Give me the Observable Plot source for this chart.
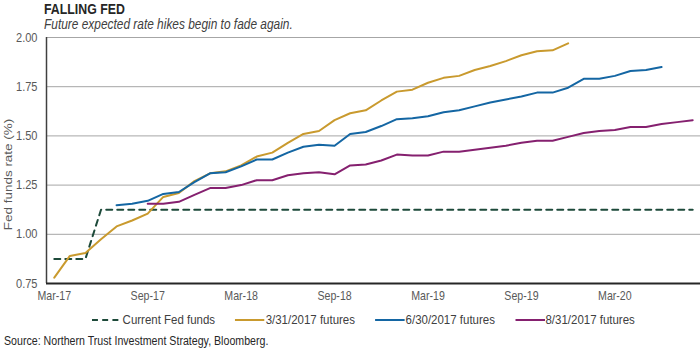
<!DOCTYPE html>
<html><head><meta charset="utf-8">
<script src="https://cdn.jsdelivr.net/npm/d3@7"></script>
<script src="https://cdn.jsdelivr.net/npm/@observablehq/plot@0.6"></script>
<style>
html,body{margin:0;padding:0;background:#fff;}
body{width:700px;height:350px;overflow:hidden;position:relative;font-family:"Liberation Sans",Arial,sans-serif;}
.sq{transform:scaleX(0.85);transform-origin:0 50%;}
#title{position:absolute;left:44px;top:1px;font-weight:bold;font-size:14.5px;color:#262626;white-space:nowrap;}
#subtitle{position:absolute;left:44px;top:16px;font-style:italic;font-size:14px;color:#404040;white-space:nowrap;}
#chart{position:absolute;left:0;top:32px;}
#legend{position:absolute;left:92px;top:312px;display:flex;gap:23.5px;font-size:13.5px;color:#404040;white-space:nowrap;}
#legend .item{display:flex;align-items:center;gap:1px;}
#source{position:absolute;left:4px;top:334px;font-size:12.5px;color:#262626;white-space:nowrap;}
</style></head>
<body>
<div id="title" class="sq">FALLING FED</div>
<div id="subtitle" class="sq">Future expected rate hikes begin to fade again.</div>
<div id="chart"></div>
<div id="legend" class="sq"></div>
<div id="source" class="sq">Source: Northern Trust Investment Strategy, Bloomberg.</div>
<script>
const months = ["Mar-17","Apr-17","May-17","Jun-17","Jul-17","Aug-17","Sep-17","Oct-17","Nov-17","Dec-17",
  "Jan-18","Feb-18","Mar-18","Apr-18","May-18","Jun-18","Jul-18","Aug-18","Sep-18","Oct-18","Nov-18","Dec-18",
  "Jan-19","Feb-19","Mar-19","Apr-19","May-19","Jun-19","Jul-19","Aug-19","Sep-19","Oct-19","Nov-19","Dec-19",
  "Jan-20","Feb-20","Mar-20","Apr-20","May-20","Jun-20","Jul-20","Aug-20"];
const xTickLabels = ["Mar-17","Sep-17","Mar-18","Sep-18","Mar-19","Sep-19","Mar-20"];
const yTicks = [0.75, 1.00, 1.25, 1.50, 1.75, 2.00];

const seriesNames = ["Current Fed funds","3/31/2017 futures","6/30/2017 futures","8/31/2017 futures"];
const seriesStart = ["Mar-17","Mar-17","Jul-17","Sep-17"];

const currentFedFunds = [0.875,0.875,0.875,1.125,1.125,1.125,1.125,1.125,1.125,1.125,
  1.125,1.125,1.125,1.125,1.125,1.125,1.125,1.125,1.125,1.125,1.125,1.125,
  1.125,1.125,1.125,1.125,1.125,1.125,1.125,1.125,1.125,1.125,1.125,1.125,
  1.125,1.125,1.125,1.125,1.125,1.125,1.125,1.125];
const futures0331 = [0.78,0.89,0.905,0.975,1.04,1.07,1.105,1.19,1.21,1.27,
  1.31,1.32,1.35,1.395,1.415,1.465,1.51,1.525,1.58,1.615,1.63,1.68,
  1.725,1.735,1.77,1.795,1.805,1.835,1.855,1.88,1.91,1.93,1.935,1.97];
const futures0630 = [1.148,1.155,1.17,1.205,1.215,1.265,
  1.31,1.315,1.345,1.38,1.38,1.415,1.445,1.455,1.45,1.51,1.52,1.55,
  1.585,1.59,1.60,1.62,1.63,1.65,1.67,1.685,1.70,1.72,1.72,1.745,
  1.79,1.79,1.805,1.83,1.835,1.85];
const futures0831 = [1.155,1.155,1.165,1.20,
  1.235,1.235,1.25,1.275,1.275,1.30,1.31,1.315,1.305,1.35,1.355,1.375,
  1.405,1.40,1.40,1.42,1.42,1.43,1.44,1.45,1.465,1.475,1.475,1.495,
  1.515,1.525,1.53,1.545,1.545,1.56,1.57,1.58];

const seriesValues = [currentFedFunds, futures0331, futures0630, futures0831];
const colors = ["#1d4a3a","#c99a2e","#1466a3","#85206f"];
const dashes = ["6,5", null, null, null];

const rows = [];
seriesValues.forEach((vals, s) => {
  const start = months.indexOf(seriesStart[s]);
  vals.forEach((v, k) => rows.push({series: seriesNames[s], i: start + k, v}));
});

const marks = [
  Plot.ruleY(yTicks.filter(d => d > 0.75), {stroke: "#a6a6a6", strokeWidth: 1}),
  Plot.ruleX([-0.5], {stroke: "#404040", strokeWidth: 1.5}),
  Plot.ruleY([0.75], {stroke: "#262626", strokeWidth: 2}),
  Plot.axisX({ticks: xTickLabels.map(l => months.indexOf(l)), tickFormat: i => months[i], tickSize: 0, tickPadding: 8, fill: "#595959", fontSize: 12.5, label: null}),
  Plot.axisY({ticks: yTicks, tickFormat: d => d.toFixed(2), tickSize: 0, tickPadding: 9, fill: "#595959", fontSize: 13, label: null}),
  Plot.text(["Fed funds rate (%)"], {frameAnchor: "left", rotate: -90, dx: -38, dy: 14, textAnchor: "middle", fontSize: 13.5, fill: "#595959"})
];
seriesNames.forEach((name, s) => {
  marks.push(Plot.line(rows.filter(r => r.series === name), {x: "i", y: "v", stroke: colors[s], strokeWidth: 2, strokeDasharray: dashes[s] || undefined}));
});

const chart = Plot.plot({
  width: 700, height: 274,
  marginLeft: 46, marginRight: 0, marginTop: 5, marginBottom: 23,
  style: {fontFamily: '"Liberation Sans",Arial,sans-serif', background: "white", overflow: "visible"},
  x: {type: "linear", domain: [-0.5, months.length - 0.5]},
  y: {domain: [0.75, 2.0]},
  marks
});
// squeeze glyphs horizontally to match the condensed lettering of the reference
chart.querySelectorAll("text").forEach(t => {
  let tr = t.getAttribute("transform");
  const rotated = tr && tr.includes("rotate");
  const sc = rotated ? " scale(1,0.85)" : " scale(0.85,1)";
  if (tr) {
    t.setAttribute("transform", tr + sc);
  } else {
    const x = +t.getAttribute("x") || 0, y = +t.getAttribute("y") || 0;
    t.setAttribute("transform", `translate(${x},${y})${sc} translate(${-x},${-y})`);
  }
});
document.getElementById("chart").appendChild(chart);

const legend = document.getElementById("legend");
seriesNames.forEach((name, s) => {
  const item = document.createElement("div");
  item.className = "item";
  item.innerHTML = `<svg width="35" height="10"><line x1="0" y1="5" x2="35" y2="5" stroke="${colors[s]}" stroke-width="2" ${dashes[s] ? `stroke-dasharray="7,5"` : ""}/></svg><span>${name}</span>`;
  legend.appendChild(item);
});
</script>
</body></html>
